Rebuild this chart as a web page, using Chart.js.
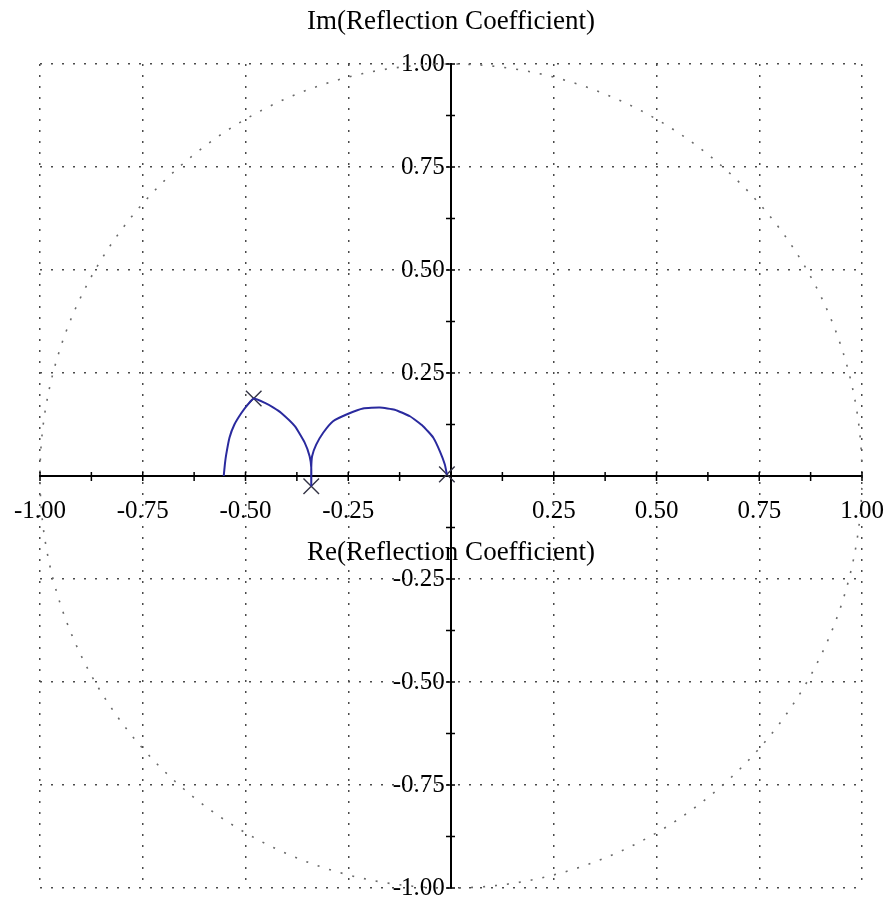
<!DOCTYPE html>
<html>
<head>
<meta charset="utf-8">
<script src="https://cdn.jsdelivr.net/npm/chart.js@4/dist/chart.umd.min.js"></script>
<style>
  html, body { margin: 0; padding: 0; background: #fff; }
  #wrap { width: 889px; height: 903px; }
</style>
</head>
<body>
<div id="wrap"><canvas id="c" width="889" height="903"></canvas></div>
<script>
// ---- data ----
const curveRe = [-0.553, -0.550, -0.547, -0.539, -0.527, -0.510, -0.494, -0.480, -0.454, -0.432, -0.413, -0.380, -0.356, -0.344, -0.340, -0.340,
                 -0.340, -0.338, -0.328, -0.311, -0.287, -0.250, -0.214, -0.173, -0.137, -0.100, -0.068, -0.043, -0.027, -0.015, -0.010];
const curveIm = [0.000, 0.030, 0.052, 0.093, 0.125, 0.153, 0.174, 0.188, 0.178, 0.166, 0.153, 0.121, 0.081, 0.048, 0.020, -0.025,
                 0.020, 0.048, 0.076, 0.105, 0.133, 0.151, 0.164, 0.166, 0.161, 0.145, 0.121, 0.093, 0.060, 0.028, 0.004];
const markerRe = [-0.480, -0.340, -0.010];
const markerIm = [0.188, -0.025, 0.004];

const majorTicks = [-1, -0.75, -0.5, -0.25, 0, 0.25, 0.5, 0.75, 1];
const minorTicks = [-0.875, -0.625, -0.375, -0.125, 0.125, 0.375, 0.625, 0.875];
const xTickLabels = ['-1.00', '-0.75', '-0.50', '-0.25', '', '0.25', '0.50', '0.75', '1.00'];
const yTickLabels = ['-1.00', '-0.75', '-0.50', '-0.25', '', '0.25', '0.50', '0.75', '1.00'];
const xTitle = 'Re(Reflection Coefficient)';
const yTitle = 'Im(Reflection Coefficient)';

// ---- build ----
const curvePts = curveRe.map((x, i) => ({ x, y: curveIm[i] }));
const markerPts = markerRe.map((x, i) => ({ x, y: markerIm[i] }));
const allTicks = majorTicks.concat(minorTicks).sort((a, b) => a - b);

const FONT = 'Liberation Serif';
const GRID_COLOR = '#4a4a4a';

function gridColor(ctx) {
  const v = ctx.tick ? ctx.tick.value : null;
  if (v === null || v === 0 || majorTicks.indexOf(v) < 0) return 'rgba(0,0,0,0)';
  return GRID_COLOR;
}

const crossPlugin = {
  id: 'crossTicks',
  beforeDatasetsDraw(chart) {
    const { ctx, scales: { x, y } } = chart;
    const cx = x.getPixelForValue(0), cy = y.getPixelForValue(0);
    const rx = x.getPixelForValue(1) - cx, ry = cy - y.getPixelForValue(1);
    // unit circle (reference circle of the chart)
    ctx.save();
    ctx.beginPath();
    ctx.ellipse(cx, cy, rx, ry, 0, 0, Math.PI * 2);
    ctx.setLineDash([2, 10]);
    ctx.lineWidth = 1.6;
    ctx.strokeStyle = '#6a6a6a';
    ctx.stroke();
    ctx.restore();
    // crossing tick marks on the axes
    ctx.save();
    ctx.strokeStyle = '#000';
    ctx.lineWidth = 1.5;
    ctx.beginPath();
    allTicks.forEach(v => {
      const px = x.getPixelForValue(v);
      ctx.moveTo(px, cy - 4); ctx.lineTo(px, cy + 5);
      const py = y.getPixelForValue(v);
      ctx.moveTo(cx - 5, py); ctx.lineTo(cx + 4, py);
    });
    ctx.stroke();
    ctx.restore();
  }
};

new Chart(document.getElementById('c'), {
  type: 'scatter',
  data: {
    datasets: [
      {
        data: curvePts,
        showLine: true,
        borderColor: '#2a2a9e',
        borderWidth: 2,
        pointRadius: 0,
        tension: 0.15,
        fill: false
      },
      {
        data: markerPts,
        showLine: false,
        pointStyle: 'crossRot',
        pointRadius: 11,
        borderColor: '#333344',
        borderWidth: 1.4,
        backgroundColor: 'rgba(0,0,0,0)'
      }
    ]
  },
  options: {
    responsive: false,
    animation: false,
    layout: { padding: { left: 40, right: 27, top: 0, bottom: 15 } },
    plugins: {
      legend: { display: false },
      tooltip: { enabled: false },
      title: {
        display: true,
        text: yTitle,
        color: '#000',
        font: { family: FONT, size: 27, weight: 'normal' },
        padding: { top: 6, bottom: 25.6 }
      }
    },
    scales: {
      x: {
        type: 'linear',
        min: -1, max: 1,
        position: { y: 0 },
        afterBuildTicks: s => { s.ticks = allTicks.map(v => ({ value: v })); },
        grid: { color: gridColor, lineWidth: 1.5, drawTicks: true, tickLength: 20, tickColor: 'rgba(0,0,0,0)' },
        border: { display: true, color: '#000', width: 2, dash: [2, 9] },
        ticks: {
          autoSkip: false, maxRotation: 0, minRotation: 0,
          padding: 0,
          color: '#000',
          font: { family: FONT, size: 25 },
          callback: v => { const i = majorTicks.indexOf(v); return i >= 0 ? xTickLabels[i] : ''; }
        },
        title: {
          display: true, text: xTitle, color: '#000',
          font: { family: FONT, size: 27, weight: 'normal' },
          padding: { top: 11, bottom: 0 }
        }
      },
      y: {
        type: 'linear',
        min: -1, max: 1,
        position: { x: 0 },
        afterBuildTicks: s => { s.ticks = allTicks.map(v => ({ value: v })); },
        grid: { color: gridColor, lineWidth: 1.5, drawTicks: false },
        border: { display: true, color: '#000', width: 2, dash: [2, 9] },
        ticks: {
          autoSkip: false,
          padding: 0,
          color: '#000',
          font: { family: FONT, size: 25 },
          callback: v => { const i = majorTicks.indexOf(v); return i >= 0 ? yTickLabels[i] + ' ' : ''; }
        }
      }
    }
  },
  plugins: [crossPlugin]
});
</script>
</body>
</html>
